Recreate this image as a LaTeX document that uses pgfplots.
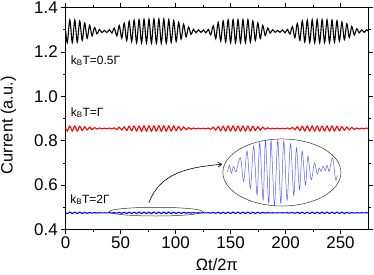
\documentclass[border=0pt]{standalone}
\usepackage{pgfplots}
\pgfplotsset{compat=1.18}
\usepackage{pgfplotstable}
\usepackage{fontspec}
\setmainfont{Liberation Sans}
\usetikzlibrary{arrows.meta}
\definecolor{insetblue}{RGB}{90,90,255}
\pgfplotstableread{
x black red blue
0 1.293 0.855 0.4750
1.5 1.241 0.844 0.4717
3.75 1.344 0.866 0.4783
6 1.242 0.844 0.4718
8.25 1.343 0.866 0.4782
10.5 1.244 0.844 0.4719
12.75 1.339 0.865 0.4779
15 1.252 0.846 0.4724
17.25 1.330 0.863 0.4773
19.5 1.261 0.848 0.4729
21.75 1.320 0.861 0.4767
24 1.272 0.850 0.4736
26.25 1.310 0.859 0.4761
28.5 1.281 0.853 0.4743
30.75 1.301 0.857 0.4755
33 1.287 0.854 0.4746
35.25 1.297 0.856 0.4753
37.5 1.287 0.854 0.4746
39.75 1.300 0.857 0.4755
42 1.285 0.853 0.4745
44.25 1.307 0.858 0.4759
46.5 1.272 0.850 0.4737
48.75 1.319 0.861 0.4766
51 1.262 0.848 0.4730
53.25 1.330 0.863 0.4773
55.5 1.251 0.846 0.4723
57.75 1.338 0.865 0.4778
60 1.246 0.845 0.4720
62.25 1.343 0.866 0.4782
64.5 1.241 0.844 0.4717
66.75 1.345 0.866 0.4783
69 1.240 0.843 0.4716
71.25 1.346 0.867 0.4784
73.5 1.240 0.843 0.4716
75.75 1.347 0.867 0.4784
78 1.239 0.843 0.4716
80.25 1.348 0.867 0.4785
82.5 1.239 0.843 0.4715
84.75 1.348 0.867 0.4785
87 1.238 0.843 0.4715
89.25 1.348 0.867 0.4785
91.5 1.239 0.843 0.4716
93.75 1.345 0.866 0.4783
96 1.243 0.844 0.4718
98.25 1.341 0.866 0.4781
100.5 1.247 0.845 0.4721
102.75 1.334 0.864 0.4776
105 1.257 0.847 0.4727
107.25 1.325 0.862 0.4770
109.5 1.268 0.850 0.4734
111.75 1.312 0.859 0.4762
114 1.279 0.852 0.4741
116.25 1.302 0.857 0.4756
118.5 1.286 0.854 0.4746
120.75 1.299 0.856 0.4754
123 1.288 0.854 0.4747
125.25 1.299 0.856 0.4754
127.5 1.286 0.854 0.4746
129.75 1.301 0.857 0.4755
132 1.277 0.851 0.4740
134.25 1.318 0.861 0.4766
136.5 1.260 0.848 0.4729
138.75 1.333 0.864 0.4776
141 1.248 0.845 0.4722
143.25 1.339 0.865 0.4779
145.5 1.245 0.844 0.4719
147.75 1.344 0.866 0.4782
150 1.241 0.844 0.4717
152.25 1.345 0.866 0.4783
154.5 1.241 0.844 0.4717
156.75 1.345 0.866 0.4783
159 1.241 0.844 0.4717
161.25 1.345 0.866 0.4783
163.5 1.241 0.844 0.4717
165.75 1.345 0.866 0.4783
168 1.244 0.844 0.4719
170.25 1.339 0.865 0.4779
172.5 1.251 0.846 0.4723
174.75 1.331 0.863 0.4774
177 1.260 0.848 0.4729
179.25 1.319 0.861 0.4767
181.5 1.274 0.851 0.4738
183.75 1.307 0.858 0.4759
186 1.285 0.853 0.4745
188.25 1.300 0.856 0.4754
190.5 1.288 0.854 0.4747
192.75 1.297 0.856 0.4753
195 1.288 0.854 0.4747
197.25 1.299 0.856 0.4754
199.5 1.286 0.854 0.4746
201.75 1.301 0.857 0.4755
204 1.280 0.852 0.4742
206.25 1.314 0.860 0.4763
208.5 1.264 0.849 0.4731
210.75 1.329 0.863 0.4773
213 1.252 0.846 0.4724
215.25 1.340 0.865 0.4780
217.5 1.245 0.844 0.4719
219.75 1.343 0.866 0.4782
222 1.242 0.844 0.4718
224.25 1.345 0.866 0.4783
226.5 1.241 0.844 0.4717
228.75 1.345 0.866 0.4783
231 1.241 0.844 0.4717
233.25 1.345 0.866 0.4783
235.5 1.242 0.844 0.4717
237.75 1.344 0.866 0.4783
240 1.242 0.844 0.4718
242.25 1.343 0.866 0.4782
244.5 1.244 0.844 0.4719
246.75 1.340 0.865 0.4780
249 1.248 0.845 0.4722
251.25 1.335 0.864 0.4777
253.5 1.255 0.847 0.4726
255.75 1.327 0.862 0.4772
258 1.265 0.849 0.4732
260.25 1.315 0.860 0.4764
262.5 1.276 0.851 0.4739
264.75 1.304 0.857 0.4757
267 1.286 0.853 0.4745
269.25 1.299 0.856 0.4754
271.5 1.288 0.854 0.4747
273.75 1.300 0.857 0.4755
275 1.293 0.855 0.4750
}\curdata
\pgfplotstableread{
x y
147.3 0.659
148.9 0.689
150.7 0.654
152.8 0.685
154.9 0.659
158.9 0.723
161.9 0.617
165.0 0.753
168.0 0.586
171.0 0.776
174.1 0.556
176.5 0.791
179.6 0.533
181.7 0.798
184.7 0.518
186.8 0.801
189.9 0.510
192.9 0.801
195.7 0.518
198.4 0.798
201.4 0.533
204.5 0.786
207.5 0.553
209.9 0.768
212.7 0.579
215.1 0.753
218.1 0.601
220.3 0.730
223.3 0.624
226.3 0.700
228.8 0.650
230.6 0.677
232.4 0.662
234.2 0.685
236.1 0.665
237.9 0.689
239.7 0.662
242.8 0.723
245.5 0.624
247.0 0.644
}\insetdata
\begin{document}
\begin{tikzpicture}
\useasboundingbox (-65.7bp,-45.5bp) rectangle (308.3bp,229.5bp);
\begin{axis}[
  at={(0,0)}, anchor=south west,
  scale only axis, width=302.3bp, height=222bp,
  xmin=0, xmax=275, ymin=0.4, ymax=1.4,
  xtick={0,50,...,250}, ytick={0.4,0.6,...,1.4},
  minor x tick num=1, minor y tick num=1,
  tick align=outside,
  major tick length=4.5bp, minor tick length=2.5bp,
  axis line style={line width=0.8pt},
  every tick/.style={line width=0.6pt, black},
  /pgf/number format/assume math mode=true,
  tick label style={font=\fontsize{17}{20}\selectfont},
  x tick label style={yshift=1bp},
  y tick label style={/pgf/number format/.cd, fixed, fixed zerofill, precision=1, /tikz/.cd},
  label style={font=\fontsize{16.5}{20}\selectfont},
  xlabel={Ωt/2π}, ylabel={Current (a.u.)},
  xlabel style={at={(axis description cs:0.5,-0.158)}, anchor=center},
  ylabel style={at={(axis description cs:-0.19,0.47)}, anchor=center},
  clip=false,
]
\addplot[black, line width=1.1pt, smooth] table[x=x, y=black]{\curdata};
\addplot[red, line width=1.1pt, smooth] table[x=x, y=red]{\curdata};
\addplot[blue, line width=1.1pt, smooth] table[x=x, y=blue]{\curdata};
\addplot[insetblue, line width=0.5pt, smooth] table[x=x, y=y]{\insetdata};
\draw[black!80, line width=0.5pt] (axis cs:82.1,0.4804) ellipse [x radius=42.5, y radius=0.0196];
\draw[black!80, line width=0.5pt] (axis cs:196.7,0.6568) ellipse [x radius=53.7, y radius=0.151];
\draw[-{Straight Barb[length=4pt,width=5pt]}, line width=0.6pt] (axis cs:75.8,0.521) to[out=70, in=185] (axis cs:142.5,0.694);
\node[anchor=base west, font=\fontsize{12}{14}\selectfont, inner sep=0pt] at (axis cs:4.5,1.145) {k\textsubscript{B}T=0.5Γ};
\node[anchor=base west, font=\fontsize{12}{14}\selectfont, inner sep=0pt] at (axis cs:4.5,0.911) {k\textsubscript{B}T=Γ};
\node[anchor=base west, font=\fontsize{12}{14}\selectfont, inner sep=0pt] at (axis cs:4,0.519) {k\textsubscript{B}T=2Γ};
\end{axis}
\end{tikzpicture}
\end{document}
